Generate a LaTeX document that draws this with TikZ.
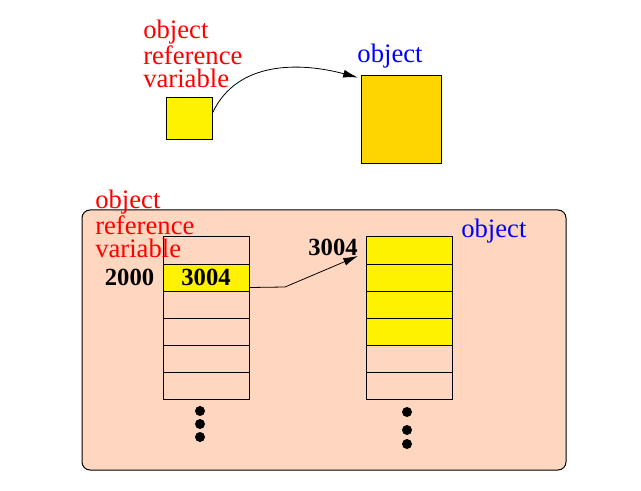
\documentclass[tikz,border=0pt]{standalone}
\usepackage{fontspec}
\setmainfont{Liberation Serif}
\usepackage{tikz}
\usetikzlibrary{arrows.meta,positioning}
\definecolor{peach}{RGB}{255,214,192}
\definecolor{gold}{RGB}{255,213,0}
\tikzset{
  cell/.style={draw, line width=0.75pt, minimum width=64.5pt, minimum height=20.25pt, inner sep=0pt, font=\fontsize{18.5}{20}\selectfont\bfseries},
  redlbl/.style={align=left, inner sep=0pt, text=red, font=\fontsize{20}{17}\selectfont},
  bluelbl/.style={inner sep=0pt, text=blue, font=\fontsize{20}{17}\selectfont},
  num/.style={inner sep=0pt, font=\fontsize{18.5}{20}\selectfont\bfseries},
  dot/.style={circle, fill, inner sep=0pt, minimum size=7.5pt},
  ptr/.style={-{Latex[length=11pt,width=6pt]}, line width=0.6pt},
}

\begin{document}
\begin{tikzpicture}[x=0.75pt, y=-0.75pt]
  \useasboundingbox (0,0) rectangle (641,491);

  % top picture
  \node[draw, line width=0.75pt, fill=yellow, minimum width=34.5pt, minimum height=31.5pt, inner sep=0pt] (refbox) at (189,119) {};
  \node[draw, line width=0.75pt, fill=gold, minimum width=60pt, minimum height=66pt, inner sep=0pt] (obj) at (401,120) {};
  \node[redlbl, anchor=north west] (reftop) at (143,20) {object\\reference\\variable};
  \node[bluelbl, anchor=base] (objtop) at (390,63) {object};
  \draw[ptr] ([yshift=4.5pt]refbox.east) to[out=65, in=165] ([xshift=-2pt,yshift=-1.5pt]obj.north west);

  % memory
  \draw[line width=0.75pt, fill=peach, rounded corners=6pt] (82,210) rectangle (566,470);

  \foreach \i in {0,2,3,4,5}
    \node[cell] (L\i) at (206,250.5+27*\i) {};
  \node[cell, fill=yellow] (L1) at (206,277.5) {3004};

  \foreach \i/\c in {0/yellow,1/yellow,2/yellow,3/yellow,4/peach,5/peach}
    \node[cell, fill=\c] (R\i) at (409,250.5+27*\i) {};

  \node[num, left=6pt of L1] (addr2000) {2000};
  \node[num, anchor=south east] (addr3004) at (358,256) {3004};

  \node[redlbl, anchor=north west] (refbot) at (95,190) {object\\reference\\variable};
  \node[bluelbl, anchor=base west] (objbot) at (461,238) {object};

  \coordinate (bend) at (285,287);
  \draw[ptr] ([yshift=-7.5pt]L1.east) -- (bend) -- (addr3004.south east);

  \foreach \y in {411,424,437}
    \node[dot] (ldot\y) at (200,\y) {};
  \foreach \y in {412,430,444}
    \node[dot] (rdot\y) at (407,\y) {};
\end{tikzpicture}
\end{document}
